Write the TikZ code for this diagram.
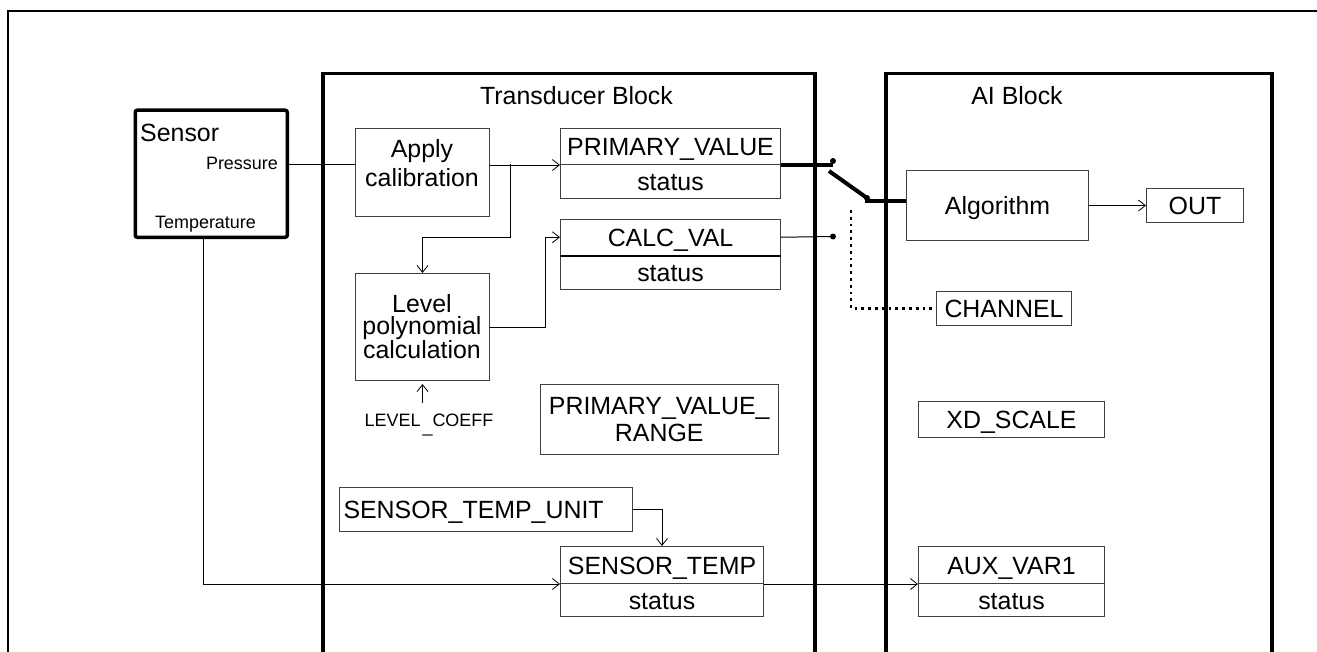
\documentclass[tikz,border=0pt]{standalone}
\usepackage{fontspec}
\setmainfont{Liberation Sans}
\usetikzlibrary{arrows.meta}
\newcommand\fbig{\fontsize{25}{28}\selectfont}
\newcommand\fbiga{\fontsize{25}{29}\selectfont}
\newcommand\fbigt{\fontsize{25}{21.5}\selectfont}
\newcommand\fsml{\fontsize{18}{20}\selectfont}
\begin{document}
\begin{tikzpicture}[x=1bp,y=-1bp,
  box/.style={draw=black!75, line width=1bp, inner sep=0pt, anchor=north west, font=\fbig, text height=18bp, text depth=0pt},
  ebox/.style={draw=black!75, line width=1bp, inner sep=0pt, anchor=north west},
  mtxt/.style={inner sep=0pt, align=center},
  mbox/.style={draw=black!75, line width=1bp, inner sep=0pt, anchor=north west, font=\fbig, align=center},
  blk/.style={draw=black, line width=3.5bp, anchor=north west, inner sep=0pt},
  arr/.style={-{Straight Barb[length=7bp,width=11bp,line width=0.8bp]}, line width=1bp},
  ln/.style={line width=1bp},
  thk/.style={line width=4bp},
  dotl/.style={line width=2.8bp, dash pattern=on 2.8bp off 4bp},
  lbl/.style={inner sep=0pt, anchor=base},
]
\useasboundingbox (0,0) rectangle (1317,652);
\clip (0,0) rectangle (1317,652);
% outer frame
\draw[line width=2.5bp] (8,700) -- (8,11) -- (1350,11);
% blocks
\node[blk, minimum width=492bp, minimum height=620bp] (tb) at (321,72) {};
\node[blk, minimum width=386bp, minimum height=620bp] (ai) at (884,72) {};
\node[lbl, font=\fbig] (tbl) at (576.5,105) {Transducer Block};
\node[lbl, font=\fbig] (ail) at (1017,105) {AI Block};
% sensor
\node[draw, line width=3.5bp, rounded corners=2bp, minimum width=152bp, minimum height=127bp, anchor=north west, inner sep=0pt] (sensor) at (133.5,108.5) {};
\node[lbl, anchor=base west, font=\fbig] (sensortxt) at (140,141.5) {Sensor};
\node[lbl, anchor=base east, font=\fsml] (press) at (278,169) {Pressure};
\node[lbl, font=\fsml] (temp) at (205.5,228.5) {Temperature};
% transducer contents
\node[ebox, minimum width=134bp, minimum height=88bp] (apply) at (355,128) {};
\node[mtxt, font=\fbiga] (applyt) at (422,163.5) {Apply\\calibration};
\node[ebox, minimum width=134bp, minimum height=107bp] (level) at (355,273) {};
\node[mtxt, font=\fbigt] (levelt) at (422,326.5) {Level\\polynomial\\calculation};
\node[box, minimum width=220bp, minimum height=36bp] (pv) at (560,128) {PRIMARY\_VALUE};
\node[box, minimum width=220bp, minimum height=34bp] (pvs) at (560,164) {status};
\node[box, minimum width=220bp, minimum height=35.5bp] (calc) at (560,219) {CALC\_VAL};
\node[box, minimum width=220bp, minimum height=34.5bp] (calcs) at (560,254.5) {status};
\draw[line width=2bp] (calc.south west) -- (calc.south east);
\node[mbox, minimum width=238.5bp, minimum height=70bp] (pvr) at (539.5,384) {PRIMARY\_VALUE\_\\RANGE};
\node[box, minimum width=293bp, minimum height=44bp, text width=285bp, align=left] (stu) at (339,487) {SENSOR\_TEMP\_UNIT};
\node[box, minimum width=203bp, minimum height=37bp] (st) at (560,546) {SENSOR\_TEMP};
\node[box, minimum width=203bp, minimum height=33bp] (sts) at (560,583) {status};
\node[lbl, font=\fsml] (lc) at (429,426) {LEVEL\hspace{2bp}\raisebox{-6.5bp}{\_}COEFF};
% AI contents
\node[box, minimum width=182bp, minimum height=70bp] (alg) at (906,170) {Algorithm};
\node[box, minimum width=97bp, minimum height=34bp] (out) at (1146,188) {OUT};
\node[box, minimum width=135bp, minimum height=34bp] (chan) at (936,291) {CHANNEL};
\node[box, minimum width=186bp, minimum height=36bp] (xd) at (918,401) {XD\_SCALE};
\node[box, minimum width=186bp, minimum height=37bp] (aux) at (918,546) {AUX\_VAR1};
\node[box, minimum width=186bp, minimum height=33bp] (auxs) at (918,583) {status};
% coordinates
\coordinate (pin) at (288,164);
\coordinate (br) at (510,164);
\coordinate (brb) at (510,237);
\coordinate (cb) at (545,327);
\coordinate (sw1) at (833,161);
\coordinate (swa) at (829,171);
\coordinate (sw2) at (867,198);
\coordinate (sw2b) at (865,201);
\coordinate (sw3) at (833,236.5);
\coordinate (dt) at (851,210);
\coordinate (tout) at (203,238);
% connectors
\draw[ln] (pin) -- (pin -| apply.west);
\draw[arr] (apply.east |- pv.south west) -- (pv.south west);
\draw[arr] (br) -- (brb) -| (level.north);
\draw[arr] (level.east |- cb) -- (cb) |- (calc.west);
\draw[arr] ([yshift=-22bp]level.south) -- ([yshift=-3bp]level.south);
\draw[thk] (pv.south east) -- (sw1 |- pv.south east);
\fill (sw1) circle[radius=3bp];
\draw[thk] (swa) -- (sw2);
\fill (sw2) circle[radius=3bp];
\draw[thk] (sw2b) -- (sw2b -| alg.west);
\draw[ln] (calc.east) -- (sw3);
\fill (sw3) circle[radius=3bp];
\draw[dotl] (dt) |- (chan.west);
\draw[arr] (alg.east |- out.west) -- (out.west);
\draw[arr] (tout) |- (st.south west);
\draw[arr] (st.south east) -- (aux.south west);
\draw[arr] (stu.east) -| (st.north);
\end{tikzpicture}
\end{document}
